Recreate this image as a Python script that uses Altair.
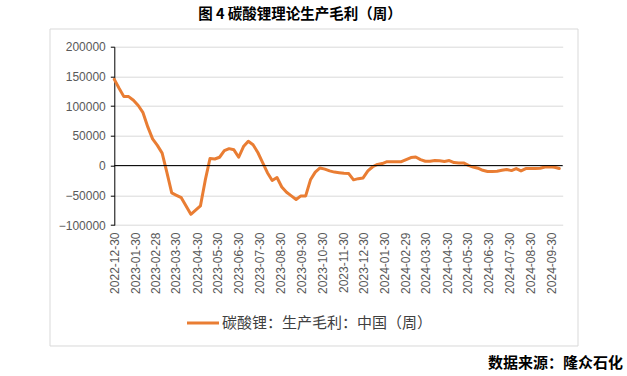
import altair as alt
import pandas as pd

start_date = "2022-12-30"
profit = [
    145000, 130000, 116000, 116000, 110000, 101000, 89000, 65000, 45000, 34000,
    21000, -12000, -46000, -50000, -54000, -68000, -82000, -75000, -68000, -25000,
    11800, 11000, 14000, 25000, 28500, 26500, 14000, 32000, 41000, 35000,
    22000, 5000, -12000, -25000, -20000, -36000, -45000, -51000, -57000, -51000,
    -51000, -24000, -11000, -4000, -6000, -9000, -11000, -12000, -13000, -13500,
    -24000, -22000, -20800, -9000, -2000, 2000, 3400, 6500, 6500, 6500,
    6500, 10000, 13500, 14500, 10000, 7200, 7200, 8500, 8000, 7000,
    8500, 5000, 4400, 4400, 400, -2500, -4500, -8000, -10000, -10000,
    -9500, -8000, -6500, -8500, -5000, -9000, -5000, -5000, -5000, -4500,
    -2500, -2000, -2800, -5000,
]
tick_labels = [
    (2022, 12, 30), (2023, 1, 30), (2023, 2, 28), (2023, 3, 30), (2023, 4, 30),
    (2023, 5, 30), (2023, 6, 30), (2023, 7, 30), (2023, 8, 30), (2023, 9, 30),
    (2023, 10, 30), (2023, 11, 30), (2023, 12, 30), (2024, 1, 30), (2024, 2, 29),
    (2024, 3, 30), (2024, 4, 30), (2024, 5, 30), (2024, 6, 30), (2024, 7, 30),
    (2024, 8, 30), (2024, 9, 30),
]
y_ticks = [-100000, -50000, 0, 50000, 100000, 150000, 200000]
zero_level = [0]
title_text = "图 4  碳酸锂理论生产毛利（周）"
legend_text = "碳酸锂：生产毛利：中国（周）"
source_text = "数据来源：隆众石化"

dates = pd.date_range(start_date, periods=len(profit), freq="7D")
df = pd.DataFrame({"date": dates.strftime("%Y-%m-%d"), "value": profit})

W, H = 448.4, 178.3
LEFT, TOP = 114.3, 46.7
ORANGE = "#E97D33"
FONT = "Liberation Sans"
CJK = "Noto Sans CJK SC"

y_scale = alt.Scale(domain=[-100000, 200000], nice=False, zero=False)
y_axis = alt.Axis(
    values=y_ticks,
    format="d",
    labelFont=FONT,
    labelFontSize=12,
    labelColor="#595959",
    labelPadding=5,
    labelOverlap=False,
    labelFlush=False,
    labelBound=False,
    domain=True,
    domainColor="#000000",
    ticks=True,
    tickColor="#000000",
    tickSize=4,
    grid=True,
    gridColor="#d9d9d9",
    gridWidth=1,
    title=None,
)

x_enc = alt.X(
    "date:T",
    scale=alt.Scale(
        type="utc",
        domain=[alt.DateTime(year=2022, month=12, date=30, utc=True),
                alt.DateTime(year=2024, month=10, date=16, utc=True)],
        nice=False,
    ),
    axis=alt.Axis(
        values=[alt.DateTime(year=a, month=b, date=c, utc=True) for a, b, c in tick_labels],
        format="%Y-%m-%d",
        labelAngle=-90,
        labelFont=FONT,
        labelFontSize=12,
        labelColor="#595959",
        labelPadding=7,
        labelOverlap=False,
        domain=False,
        ticks=False,
        grid=False,
        title=None,
    ),
)

line = alt.Chart(df).mark_line(color=ORANGE, strokeWidth=3, strokeJoin="round", strokeCap="round").encode(
    x=x_enc, y=alt.Y("value:Q", scale=y_scale, axis=y_axis)
)

zero = alt.Chart(pd.DataFrame({"z": zero_level})).mark_rule(color="#000000", strokeWidth=1).encode(
    y=alt.Y("z:Q", scale=y_scale, axis=y_axis)
)

frame = alt.Chart(pd.DataFrame({"a": [0]})).mark_rect(
    fill=None, filled=False, stroke="#d9d9d9", strokeWidth=1
).encode(
    x=alt.value(50 - LEFT), x2=alt.value(578 - LEFT),
    y=alt.value(29 - TOP), y2=alt.value(346 - TOP),
)

title = alt.Chart(pd.DataFrame({"t": [title_text]})).mark_text(
    font=CJK, fontSize=14.5, fontWeight="bold", color="#000000", align="center", baseline="middle"
).encode(x=alt.value(300 - LEFT), y=alt.value(15 - TOP), text="t:N")

leg_line = alt.Chart(pd.DataFrame({"a": [0]})).mark_rule(color=ORANGE, strokeWidth=3).encode(
    x=alt.value(187 - LEFT), x2=alt.value(219 - LEFT), y=alt.value(323 - TOP)
)
leg_text = alt.Chart(pd.DataFrame({"t": [legend_text]})).mark_text(
    font=CJK, fontSize=15, color="#404040", align="left", baseline="middle"
).encode(x=alt.value(222 - LEFT), y=alt.value(323 - TOP), text="t:N")

source = alt.Chart(pd.DataFrame({"t": [source_text]})).mark_text(
    font=CJK, fontSize=15, fontWeight="bold", color="#000000", align="right", baseline="middle"
).encode(x=alt.value(623 - LEFT), y=alt.value(363 - TOP), text="t:N")

chart = alt.layer(frame, line, zero, title, leg_line, leg_text, source).properties(
    width=W, height=H,
    autosize=alt.AutoSizeParams(type="none"),
    padding={"left": LEFT, "top": TOP, "right": 627 - LEFT - W, "bottom": 376 - TOP - H},
    background="#ffffff",
).configure_view(stroke=None)

chart.save("out.html", embed_options={"renderer": "svg", "actions": False})
